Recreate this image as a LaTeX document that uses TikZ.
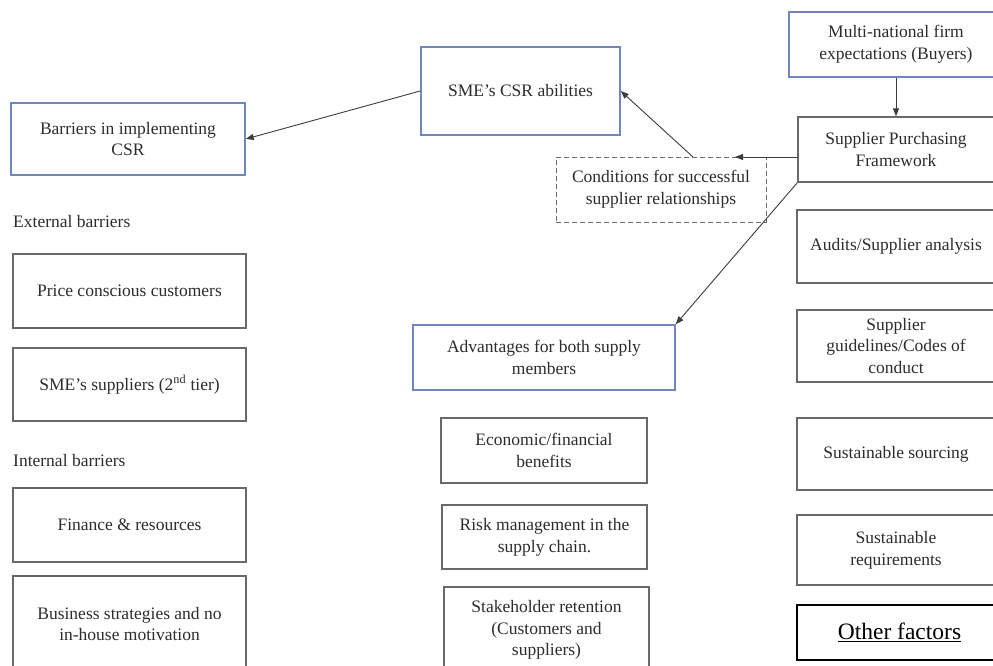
\documentclass[tikz,border=0pt]{standalone}
\usepackage{fontspec}
\setmainfont{Liberation Serif}
\usetikzlibrary{arrows.meta}
\definecolor{bluebd}{RGB}{112,134,191}
\definecolor{graybd}{RGB}{105,105,105}
\definecolor{txt}{RGB}{45,45,45}
\definecolor{arr}{RGB}{60,60,60}
\tikzset{
  base/.style={rectangle, inner sep=0pt, align=center, text=txt,
    font=\fontsize{17.5}{21.7}\selectfont},
  bluebox/.style={base, draw=bluebd, line width=1.5pt},
  graybox/.style={base, draw=graybd, line width=1.3pt},
  dashbox/.style={base, draw=graybd, line width=1pt, dash pattern=on 5pt off 3pt},
  otherbox/.style={base, draw=black, line width=2.4pt, text=black,
    font=\fontsize{23.5}{28}\selectfont},
  lbl/.style={base, anchor=west},
  conn/.style={draw=arr, line width=0.9pt, -{Triangle[length=8pt,width=6pt]}}
}
\begin{document}
\begin{tikzpicture}[x=1pt,y=-1pt]
\useasboundingbox[fill=white] (0,0) rectangle (993,666);
% left column
\node[bluebox, minimum width=234, minimum height=72] (barr) at (128,139) {Barriers in implementing\\CSR};
\node[lbl] (ext) at (13,222) {External barriers};
\node[graybox, minimum width=233, minimum height=74] (price) at (129.5,291) {Price conscious customers};
\node[graybox, minimum width=233, minimum height=73] (smesup) at (129.5,384.5) {SME’s suppliers (2\textsuperscript{nd} tier)};
\node[lbl] (int) at (13,461) {Internal barriers};
\node[graybox, minimum width=233, minimum height=74] (fin) at (129.5,525) {Finance \& resources};
\node[graybox, minimum width=233, minimum height=96] (bus) at (129.5,624) {Business strategies and no\\in-house motivation};
% middle
\node[bluebox, minimum width=199, minimum height=88] (sme) at (520.5,91) {SME’s CSR abilities};
\node[dashbox, minimum width=210, minimum height=65] (cond) at (661,189.5) {Conditions for successful\\supplier relationships};
\node[bluebox, minimum width=262, minimum height=65] (adv) at (544,357.5) {Advantages for both supply\\members};
\node[graybox, minimum width=206, minimum height=65] (eco) at (544,450.5) {Economic/financial\\benefits};
\node[graybox, minimum width=205, minimum height=64] (risk) at (544.5,537) {Risk management in the\\supply chain.};
\node[graybox, minimum width=205, minimum height=86] (stake) at (546.5,630) {Stakeholder retention\\(Customers and\\suppliers)};
% right column
\node[bluebox, minimum width=214, minimum height=65] (mnf) at (896,44.5) {Multi-national firm\\expectations (Buyers)};
\node[graybox, minimum width=196, minimum height=65] (spf) at (896,149.5) {Supplier Purchasing\\Framework};
\node[graybox, minimum width=198, minimum height=73] (aud) at (896,246.5) {Audits/Supplier analysis};
\node[graybox, minimum width=198, minimum height=72] (guide) at (896,346) {Supplier\\guidelines/Codes of\\conduct};
\node[graybox, minimum width=198, minimum height=72] (sourc) at (896,454) {Sustainable sourcing};
\node[graybox, minimum width=198, minimum height=70] (req) at (896,550) {Sustainable\\requirements};
\node[otherbox, minimum width=205, minimum height=55] (other) at (899.5,632.5) {\underline{Other factors}};
% connectors
\coordinate (condtip) at (735,157);
\coordinate (condsrc) at (693,157);
\draw[conn] (sme.west) -- (barr.east);
\draw[conn] (mnf.south) -- (spf.north);
\draw[conn] (spf.west |- condtip) -- (condtip);
\draw[conn] (condsrc) -- (sme.east);
\draw[conn] (spf.south west) -- (adv.north east);
\end{tikzpicture}
\end{document}
